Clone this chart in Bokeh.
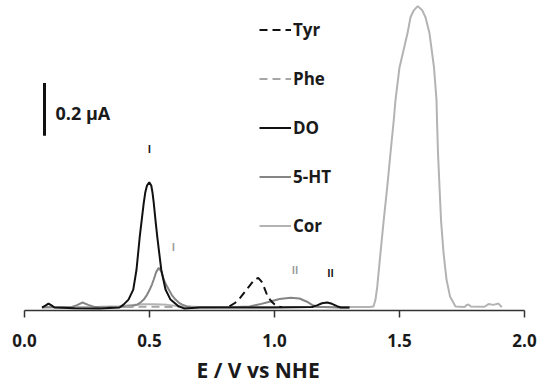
from bokeh.plotting import figure
from bokeh.models import (FixedTicker, NumeralTickFormatter, Legend, LegendItem,
                          Label, Title, ColumnDataSource, Range1d)
from bokeh.core.properties import value
from bokeh.embed import file_html
from bokeh.resources import INLINE

# ---------------- data (E in V vs NHE, current in uA) ----
DO_E = [0.07, 0.085, 0.096, 0.108, 0.12, 0.2, 0.3, 0.38, 0.396, 0.416, 0.435,
        0.448, 0.461, 0.470, 0.477, 0.483, 0.490, 0.499, 0.507, 0.512, 0.517,
        0.524, 0.531, 0.547, 0.564, 0.584, 0.616, 0.64, 0.67, 0.7, 1.0, 1.15,
        1.17, 1.19, 1.211, 1.23, 1.25, 1.265, 1.3]
DO_I = [0.0, 0.008, 0.015, 0.008, 0.0, -0.003, -0.004, 0.0, 0.011, 0.03, 0.068,
        0.143, 0.268, 0.34, 0.396, 0.435, 0.462, 0.474, 0.462, 0.435, 0.396,
        0.33, 0.268, 0.143, 0.068, 0.03, 0.005, -0.004, -0.002, 0.0, 0.0, 0.002,
        0.008, 0.016, 0.019, 0.014, 0.005, 0.0, 0.0]

HT_E = [0.07, 0.19, 0.21, 0.232, 0.255, 0.28, 0.4, 0.43, 0.451, 0.465, 0.477,
        0.490, 0.501, 0.510, 0.517, 0.527, 0.537, 0.547, 0.557, 0.567, 0.577,
        0.590, 0.604, 0.618, 0.631, 0.65, 0.68, 0.85, 0.9, 0.94, 0.98, 1.02,
        1.064, 1.10, 1.13, 1.15, 1.17, 1.25, 1.3]
HT_I = [0.0, 0.002, 0.009, 0.019, 0.01, 0.002, 0.003, 0.006, 0.011, 0.02, 0.03,
        0.048, 0.068, 0.088, 0.106, 0.135, 0.150, 0.137, 0.106, 0.085, 0.068,
        0.046, 0.03, 0.018, 0.011, 0.004, 0.001, 0.002, 0.004, 0.012, 0.022,
        0.032, 0.037, 0.034, 0.022, 0.01, 0.003, 0.0, 0.0]

TYR_E = [0.82, 0.843, 0.864, 0.884, 0.904, 0.92, 0.935, 0.951, 0.962, 0.972,
         0.982, 0.991, 1.0, 1.01, 1.03]
TYR_I = [0.004, 0.018, 0.038, 0.062, 0.087, 0.105, 0.112, 0.095, 0.068, 0.043,
         0.03, 0.02, 0.012, 0.005, 0.001]

PHE_E = [0.30, 0.40, 0.50, 0.60, 0.70]
PHE_I = [0.0, 0.002, 0.003, 0.002, 0.0]

COR_E = [0.07, 0.3, 0.38, 0.42, 0.47, 0.52, 0.57, 0.62, 0.7, 1.3, 1.38, 1.396,
         1.404, 1.411, 1.424, 1.437, 1.451, 1.464, 1.477, 1.484, 1.50, 1.532,
         1.544, 1.557, 1.573, 1.591, 1.604, 1.62, 1.638, 1.648, 1.65, 1.654,
         1.66, 1.666, 1.676, 1.688, 1.702, 1.724, 1.76, 1.77, 1.777, 1.785,
         1.84, 1.856, 1.875, 1.896, 1.905, 1.91]
COR_I = [0.002, 0.003, 0.005, 0.009, 0.012, 0.012, 0.01, 0.005, 0.002, 0.002,
         0.002, 0.004, 0.03, 0.079, 0.208, 0.332, 0.457, 0.585, 0.709, 0.785,
         0.909, 1.038, 1.099, 1.125, 1.141, 1.125, 1.099, 1.038, 0.909, 0.785,
         0.709, 0.585, 0.457, 0.332, 0.208, 0.106, 0.042, 0.004, 0.002, 0.01,
         0.011, 0.004, 0.003, 0.013, 0.01, 0.015, 0.005, 0.002]

SERIES = ["Tyr", "Phe", "DO", "5-HT", "Cor"]
X_TICKS = [0.0, 0.5, 1.0, 1.5, 2.0]
X_TITLE = "E / V vs NHE"

PEAK_TEXT = ["I", "I", "II", "II"]
PEAK_E = [0.50, 0.596, 1.082, 1.224]
PEAK_I = [0.602, 0.228, 0.143, 0.132]
PEAK_COLOR = ["#111111", "#9a9a9a", "#9a9a9a", "#111111"]

SCALE_BAR_E = 0.08
SCALE_BAR_I0 = 0.65
SCALE_BAR_LEN = 0.2   # uA
SCALE_BAR_TEXT = "0.2 \u03bcA"

# ---------------- figure ----------------
FONT = "Open Sans"
p = figure(width=541, height=385, output_backend="svg", toolbar_location=None,
           x_range=Range1d(0, 2.0), y_range=Range1d(-0.0113, 1.1623),
           min_border_left=24, min_border_right=17, min_border_top=0,
           min_border_bottom=74)
p.outline_line_color = None
p.grid.visible = False
p.yaxis.visible = False
p.background_fill_color = "white"
p.border_fill_color = "white"

ax = p.xaxis[0]
ax.ticker = FixedTicker(ticks=X_TICKS)
ax.formatter = NumeralTickFormatter(format="0.0")
ax.minor_tick_line_color = None
ax.major_tick_out = 7
ax.major_tick_in = 0
ax.axis_line_color = "#333333"
ax.axis_line_width = 1.5
ax.major_tick_line_color = "#333333"
ax.major_tick_line_width = 1.5
ax.major_label_text_font = FONT
ax.major_label_text_font_style = "bold"
ax.major_label_text_font_size = "17px"
ax.major_label_text_color = "#1a1a1a"
ax.major_label_standoff = 16

# axis title under the axis, left of centre as in the original
x_title = Title(text=X_TITLE, align="left", offset=172, standoff=0,
                text_font=FONT, text_font_style="bold", text_font_size="21px",
                text_color="#1a1a1a", vertical_align="top")
if "padding" in Title.properties():
    x_title.padding = dict(left=0, right=0, top=6, bottom=0)
p.add_layout(x_title, "below")

# curves
r_cor = p.line(COR_E, COR_I, line_color="#b3b3b3", line_width=2)
r_ht = p.line(HT_E, HT_I, line_color="#858585", line_width=2)
r_phe = p.line(PHE_E, PHE_I, line_color="#a6a6a6", line_width=2, line_dash="8 5")
r_do = p.line(DO_E, DO_I, line_color="#111111", line_width=2)
r_tyr = p.line(TYR_E, TYR_I, line_color="#111111", line_width=2, line_dash="8 5")

# peak markers
src = ColumnDataSource(dict(x=PEAK_E, y=PEAK_I, t=PEAK_TEXT, c=PEAK_COLOR))
p.text("x", "y", text="t", source=src, text_color="c", text_font=value(FONT),
       text_font_style="bold", text_font_size="10px", text_align="center",
       text_baseline="middle")

# scale bar
p.segment([SCALE_BAR_E], [SCALE_BAR_I0], [SCALE_BAR_E],
          [SCALE_BAR_I0 + SCALE_BAR_LEN], line_color="#111111", line_width=3)
p.add_layout(Label(x=SCALE_BAR_E + 0.044, y=SCALE_BAR_I0 + SCALE_BAR_LEN / 2 - 0.014,
                   text=SCALE_BAR_TEXT, text_font=FONT, text_font_style="bold",
                   text_font_size="18px", text_color="#1a1a1a",
                   text_baseline="middle"))

legend = Legend(items=[LegendItem(label=SERIES[0], renderers=[r_tyr]),
                       LegendItem(label=SERIES[1], renderers=[r_phe]),
                       LegendItem(label=SERIES[2], renderers=[r_do]),
                       LegendItem(label=SERIES[3], renderers=[r_ht]),
                       LegendItem(label=SERIES[4], renderers=[r_cor])],
                location=(235, 73), orientation="vertical",
                glyph_width=32, glyph_height=23, label_height=23,
                label_standoff=2, spacing=26, padding=0, margin=0,
                border_line_color=None, background_fill_alpha=0,
                label_text_font=FONT, label_text_font_style="bold",
                label_text_font_size="17px", label_text_color="#1a1a1a")
p.add_layout(legend)

open("out.html", "w").write(file_html(p, INLINE))
